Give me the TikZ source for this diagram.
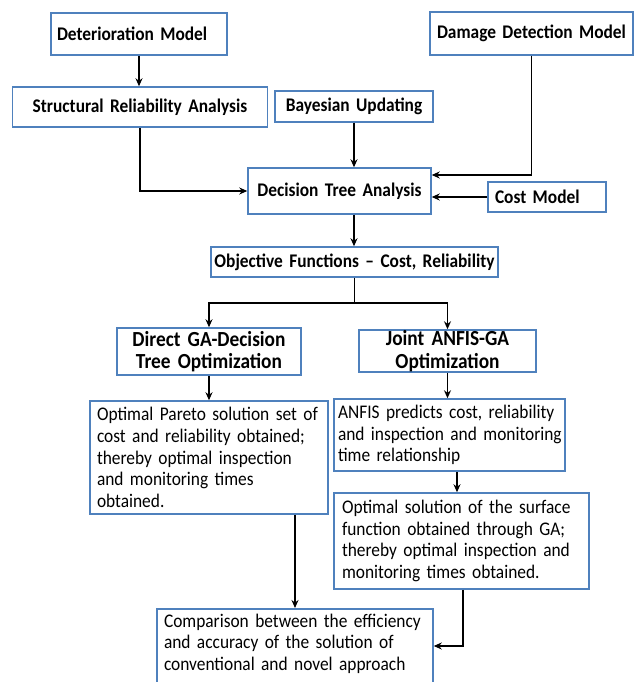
\documentclass[tikz,border=0pt]{standalone}
\usepackage{fontspec}
\setmainfont{Carlito}[FakeStretch=0.9,WordSpace=0.8]
\usetikzlibrary{arrows.meta}
\hyphenpenalty=10000
\exhyphenpenalty=10000
\definecolor{boxblue}{RGB}{79,129,189}
\tikzset{
  box/.style={draw=boxblue, line width=1.5pt, inner sep=0pt, inner xsep=6pt, font=\bfseries\fontsize{19.3}{21}\selectfont, align=center},
  bigbox/.style={box, font=\bfseries\fontsize{21.5}{22.5}\selectfont},
  txtbox/.style={box, font=\fontsize{19.3}{21.7}\selectfont, align=left},
  arr/.style={line width=1.6pt, -{Stealth[length=8pt,width=7pt]}}
}
\begin{document}
\begin{tikzpicture}[x=1pt,y=-1pt]
\useasboundingbox (0,0) rectangle (634,682);
\clip (0,0) rectangle (634,682);
\node[box, minimum height=42pt, inner xsep=6pt, text width=164pt, align=left] (det) at (139,34) {Deterioration Model};
\node[box, minimum height=43pt, inner xsep=2pt, text width=199pt] (dam) at (531.5,33.5) {Damage Detection Model};
\node[box, minimum height=40pt, text width=243pt] (str) at (140,107) {Structural Reliability Analysis};
\node[box, minimum height=31pt, text width=146pt] (bay) at (354,106.5) {Bayesian Updating};
\node[box, minimum height=46pt, text width=171pt] (dec) at (339.5,191) {Decision Tree Analysis};
\node[box, minimum height=30pt, inner xsep=7pt, text width=104pt, align=left] (cost) at (547,197) {Cost Model};
\node[box, minimum height=30pt, inner xsep=3pt, text width=281pt] (obj) at (354.5,262) {Objective Functions -- Cost, Reliability};
\node[bigbox, minimum height=47pt, text width=172pt] (dga) at (209,351.5) {Direct GA-Decision\\Tree Optimization};
\node[bigbox, minimum height=42pt, text width=165pt] (jag) at (447.5,351) {Joint ANFIS-GA\\Optimization};
\node[txtbox, minimum height=113pt, inner xsep=7pt, text width=224pt] (par) at (209,457.5) {Optimal Pareto solution set of\\cost and reliability obtained;\\thereby optimal inspection\\and monitoring times\\obtained.};
\node[txtbox, minimum height=72pt, inner xsep=4pt, text width=223pt] (anf) at (449.5,435) {\mbox{ANFIS predicts cost, reliability}\\\mbox{and inspection and monitoring}\\\mbox{time relationship}};
\node[txtbox, minimum height=96pt, inner xsep=8pt, text width=239pt] (opt) at (461.5,541) {Optimal solution of the surface\\function obtained through GA;\\thereby optimal inspection and\\monitoring times obtained.};
\node[txtbox, inner ysep=5pt, inner xsep=7pt, text width=262pt, anchor=north] (cmp) at (295,608) {Comparison between the efficiency\\and accuracy of the solution of\\conventional and novel approach\\[20pt]\strut};
\coordinate (br) at (354.5,303);
\draw[arr] (det.south) -- (det.south |- str.north);
\draw[arr] (str.south) |- (dec.west);
\draw[arr] (bay.south) -- (bay.south |- dec.north);
\draw[arr] (dam.south) |- ([yshift=16pt]dec.east);
\draw[arr] (cost.west) -- (cost.west -| dec.east);
\draw[arr] (bay.south |- dec.south) -- (bay.south |- obj.north);
\draw[line width=1.6pt] (obj.south) -- (br);
\draw[arr] (br) -| (dga.north);
\draw[arr] (br) -| (jag.north);
\draw[arr] (dga.south) -- (par.north);
\draw[arr] (jag.south) -- (jag.south |- anf.north);
\draw[arr] ([xshift=7.5pt]anf.south) -- ([xshift=7.5pt]anf.south |- opt.north);
\draw[arr] (par.south -| cmp.north) -- (cmp.north);
\draw[arr] ([xshift=1.5pt]opt.south) |- ([yshift=-38pt]cmp.north east);
\end{tikzpicture}
\end{document}
